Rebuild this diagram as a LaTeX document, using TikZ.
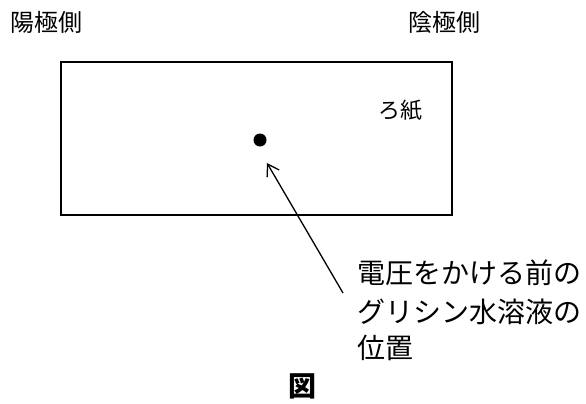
\documentclass[tikz,border=0pt]{standalone}
\usepackage{fontspec}
\newfontfamily\jp{Noto Sans CJK JP}
\usetikzlibrary{arrows.meta}
\begin{document}
\begin{tikzpicture}[x=1pt,y=-1pt,
  lab/.style={font=\jp\fontsize{24}{26}\selectfont, inner sep=0pt},
  note/.style={font=\jp\fontsize{28}{38}\selectfont, inner sep=0pt, align=left},
  paper/.style={draw, line width=1.6pt}]
\useasboundingbox (0,0) rectangle (586,404);
\node[lab] (anode) at (46,22) {陽極側};
\node[lab] (cathode) at (444,22) {陰極側};
\node[paper, minimum width=391pt, minimum height=153pt, inner sep=0pt] (paperbox) at (256.5,138.5) {};
\node[lab, font=\jp\fontsize{22}{24}\selectfont] (filter) at (400,110) {ろ紙};
\node[circle, fill, minimum size=13pt, inner sep=0pt] (spot) at (260,140) {};
\node[note, anchor=west] (l1) at (357,273) {電圧をかける前の};
\node[note, anchor=west] (l2) at (357,312) {グリシン水溶液の};
\node[note, anchor=west] (l3) at (357,348) {位置};
\coordinate (tail) at (343,293);
\draw[line width=1.3pt, -{Straight Barb[length=11pt,width=14pt,line width=1.3pt]}] (tail) -- (267,163);
\node[inner sep=0pt, font=\jp\fontsize{28}{30}\selectfont\bfseries] (fig) at (302,386) {図};
\end{tikzpicture}
\end{document}
